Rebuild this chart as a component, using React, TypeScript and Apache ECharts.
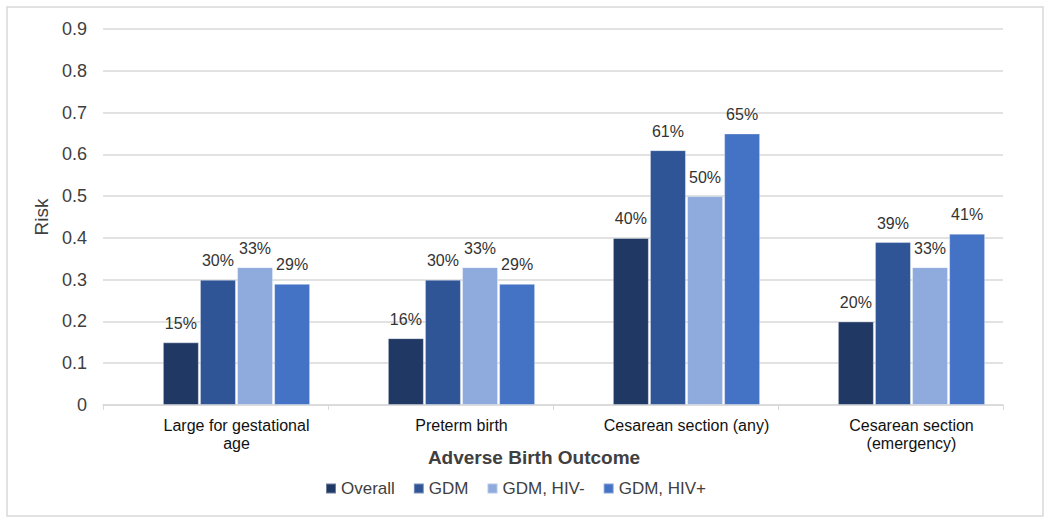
import React, { useEffect, useRef } from "react";
import * as echarts from "echarts";

const categories = [
  "Large for gestational\nage",
  "Preterm birth",
  "Cesarean section (any)",
  "Cesarean section\n(emergency)",
];
const seriesNames = ["Overall", "GDM", "GDM, HIV-", "GDM, HIV+"];
const overall = [0.15, 0.16, 0.4, 0.2];
const gdm = [0.3, 0.3, 0.61, 0.39];
const gdmHivNeg = [0.33, 0.33, 0.5, 0.33];
const gdmHivPos = [0.29, 0.29, 0.65, 0.41];
const colors = ["#203864", "#2F5597", "#8FAADC", "#4472C4"];
const yTicks = { min: 0, max: 0.9, interval: 0.1 };

const FONT = "'Liberation Sans', Arial, sans-serif";

export default function App() {
  const ref = useRef<HTMLDivElement>(null);
  useEffect(() => {
    if (!ref.current) return;
    const chart = echarts.init(ref.current, null, { renderer: "svg" });
    const values = [overall, gdm, gdmHivNeg, gdmHivPos];
    chart.setOption({
      animation: false,
      textStyle: { fontFamily: FONT },
      graphic: [
        {
          type: "rect",
          shape: { x: 7, y: 7, width: 1036, height: 509 },
          style: { fill: "none", stroke: "#d9d9d9", lineWidth: 1.5 },
          silent: true,
        },
        {
          type: "text",
          x: 534,
          y: 448,
          style: {
            text: "Adverse Birth Outcome",
            fill: "#404040",
            font: `bold 19px ${FONT}`,
            textAlign: "center",
          },
        },
      ],
      legend: {
        data: seriesNames,
        left: 325,
        top: 480,
        padding: 0,
        itemWidth: 10,
        itemHeight: 10,
        itemGap: 18,
        icon: "rect",
        textStyle: { color: "#404040", fontSize: 17, fontFamily: FONT },
      },
      grid: [
        { left: 103, right: 47, top: 29, bottom: 117 },
        { left: 124, right: 26, top: 29, bottom: 117 },
      ],
      xAxis: [
        {
          type: "category",
          gridIndex: 0,
          data: categories,
          axisLine: { lineStyle: { color: "#d9d9d9", width: 1.5 } },
          axisTick: { show: true, lineStyle: { color: "#d9d9d9" }, length: 5 },
          axisLabel: { show: false },
        },
        {
          type: "category",
          gridIndex: 1,
          data: categories,
          axisLine: { show: false },
          axisTick: { show: false },
          axisLabel: {
            color: "#111",
            fontSize: 16,
            lineHeight: 18,
            margin: 11,
            fontFamily: FONT,
          },
        },
      ],
      yAxis: [
        {
          type: "value",
          gridIndex: 0,
          min: yTicks.min,
          max: yTicks.max,
          interval: yTicks.interval,
          name: "Risk",
          nameLocation: "middle",
          nameGap: 50,
          nameTextStyle: { color: "#404040", fontSize: 19, fontFamily: FONT },
          axisLine: { show: false },
          axisTick: { show: false },
          splitLine: { lineStyle: { color: "#d9d9d9", width: 1.5 } },
          axisLabel: {
            color: "#404040",
            fontSize: 18,
            margin: 16,
            fontFamily: FONT,
            formatter: (v: number) => (v === 0 ? "0" : v.toFixed(1)),
          },
        },
        {
          type: "value",
          gridIndex: 1,
          min: yTicks.min,
          max: yTicks.max,
          interval: yTicks.interval,
          show: false,
          splitLine: { show: false },
        },
      ],
      series: seriesNames.map((name, i) => ({
        name,
        type: "bar",
        xAxisIndex: 1,
        yAxisIndex: 1,
        data: values[i],
        barWidth: 36,
        barGap: "3%",
        itemStyle: { color: colors[i], borderColor: "rgba(255,255,255,0.35)", borderWidth: 1 },
        label: {
          show: true,
          position: "top",
          distance: 11,
          color: "#333",
          fontSize: 16,
          fontFamily: FONT,
          formatter: (p: any) => `${Math.round(p.value * 100)}%`,
        },
      })),
    });
    return () => chart.dispose();
  }, []);
  return (
    <div
      ref={ref}
      style={{ position: "absolute", left: 0, top: 0, width: 1050, height: 522, background: "#fff" }}
    />
  );
}
